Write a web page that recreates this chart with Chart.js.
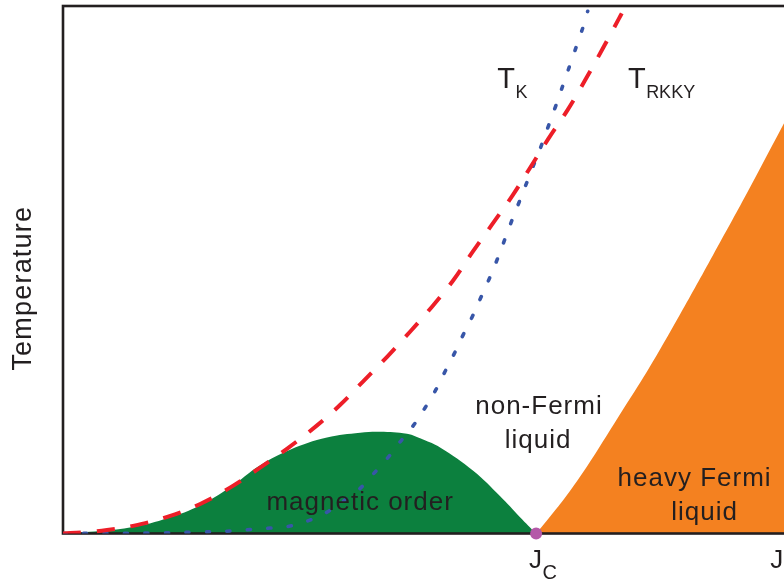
<!DOCTYPE html>
<html>
<head>
<meta charset="utf-8">
<script src="https://cdn.jsdelivr.net/npm/chart.js@4.4.1/dist/chart.umd.min.js"></script>
<style>
  html, body { margin: 0; padding: 0; background: #fff; overflow: hidden; }
  canvas { display: block; }
</style>
</head>
<body>
<canvas id="phase" width="830" height="583"></canvas>
<script>
// Doniach phase diagram: coupling J (in units of Jc) vs temperature (arbitrary units, 0-100)

// Magnetically ordered dome
const orderJ = [0, 0.078, 0.148, 0.222, 0.290, 0.353, 0.416, 0.480, 0.558, 0.628, 0.670, 0.727, 0.761, 0.797, 0.867, 0.924, 0.966, 1.0];
const orderT = [0, 0.47, 1.22, 2.92, 5.36, 8.75, 12.9, 15.9, 18.2, 19.1, 19.3, 18.9, 17.8, 16.3, 11.9, 7.06, 3.1, 0];

// RKKY scale
const rkkyJ = [0, 0.042, 0.093, 0.148, 0.222, 0.290, 0.353, 0.412, 0.474, 0.537, 0.586, 0.634, 0.685, 0.734, 0.780, 0.825, 0.865, 0.907, 0.951, 0.987, 1.025, 1.068, 1.104, 1.140, 1.175, 1.181];
const rkkyT = [0, 0.22, 0.66, 1.45, 3.2, 5.6, 8.7, 12.2, 16.1, 20.5, 24.4, 28.8, 33.5, 38.3, 43.0, 48.0, 53.3, 58.6, 64.2, 69.3, 74.7, 80.5, 86.0, 91.8, 97.6, 98.6];

// Kondo scale
const kondoJ = [0, 0.184, 0.290, 0.353, 0.395, 0.438, 0.480, 0.522, 0.558, 0.592, 0.628, 0.655, 0.685, 0.710, 0.740, 0.765, 0.789, 0.808, 0.827, 0.846, 0.865, 0.882, 0.901, 0.918, 0.934, 0.949, 0.964, 0.981, 0.994, 1.013, 1.025, 1.040, 1.051, 1.066, 1.080, 1.093, 1.101, 1.109];
const kondoT = [0, 0.1, 0.28, 0.47, 0.75, 1.03, 1.41, 2.54, 4.05, 6.11, 8.56, 11.2, 14.2, 17.1, 20.4, 23.8, 27.4, 30.8, 34.1, 37.7, 41.1, 44.5, 48.3, 52.0, 55.8, 59.4, 62.8, 66.7, 69.7, 74.0, 77.0, 80.7, 83.5, 87.4, 91.0, 94.4, 96.5, 99.0];

// Heavy Fermi liquid crossover
const fermiJ = [1.0, 1.030, 1.057, 1.093, 1.129, 1.178, 1.235, 1.304, 1.374, 1.446, 1.510, 1.558, 1.600];
const fermiT = [0, 3.29, 6.30, 10.8, 15.7, 22.7, 30.8, 41.5, 52.8, 64.6, 75.4, 83.4, 90.4];

// Quantum critical point
const criticalJ = [1.0];
const criticalT = [0];

const J_MIN = 0, J_MAX = 1.6, T_MIN = 0, T_MAX = 100;

const INK = '#231f20';
const FONT = '"Liberation Sans", Arial, Helvetica, sans-serif';

const toPoints = (xs, ys) => xs.map((x, i) => ({ x, y: ys[i] }));

// Text placed in data coordinates
const regionLabels = [
  { text: 'magnetic order', j: 0.628, t: 4.42 },
  { text: 'non-Fermi',      j: 1.006, t: 22.67 },
  { text: 'liquid',         j: 1.004, t: 16.27 },
  { text: 'heavy Fermi',    j: 1.335, t: 8.94 },
  { text: 'liquid',         j: 1.356, t: 2.54 }
];
const curveLabels = [
  { main: 'T', sub: 'K',    j: 0.918, t: 84.4 },
  { main: 'T', sub: 'RKKY', j: 1.194, t: 84.4 }
];
const axisLabels = [
  { main: 'J', sub: 'C', j: 0.985 },
  { main: 'J', sub: '',  j: 1.495 }
];

let frameDrawn = false;
const framePlugin = {
  id: 'frame',
  beforeDatasetsDraw() { frameDrawn = false; },
  beforeDatasetDraw(chart, args) {
    if (frameDrawn) return;
    if (chart.data.datasets[args.index].order < 3) {
      const { ctx, chartArea: a } = chart;
      ctx.save();
      ctx.strokeStyle = INK;
      ctx.lineWidth = 2.6;
      ctx.strokeRect(a.left, a.top, a.right - a.left, a.bottom - a.top);
      ctx.restore();
      frameDrawn = true;
    }
  }
};

const textPlugin = {
  id: 'texts',
  afterDraw(chart) {
    const { ctx, chartArea: a } = chart;
    const xs = chart.scales.x, ys = chart.scales.y;
    ctx.save();
    ctx.fillStyle = INK;
    ctx.textBaseline = 'alphabetic';

    // region names
    ctx.font = '26px ' + FONT;
    ctx.letterSpacing = '1px';
    ctx.textAlign = 'center';
    regionLabels.forEach(l => {
      ctx.fillText(l.text, xs.getPixelForValue(l.j), ys.getPixelForValue(l.t));
    });

    // curve names with subscripts
    ctx.letterSpacing = '0px';
    ctx.textAlign = 'left';
    curveLabels.forEach(l => {
      const px = xs.getPixelForValue(l.j), py = ys.getPixelForValue(l.t);
      ctx.font = '29px ' + FONT;
      ctx.fillText(l.main, px, py);
      const w = ctx.measureText(l.main).width;
      ctx.font = '18px ' + FONT;
      ctx.fillText(l.sub, px + w + 0.5, py + 10);
    });

    // coupling axis marks
    axisLabels.forEach(l => {
      const px = xs.getPixelForValue(l.j), py = a.bottom + 34.5;
      ctx.font = '26px ' + FONT;
      ctx.fillText(l.main, px, py);
      const w = ctx.measureText(l.main).width;
      if (l.sub) {
        ctx.font = '20px ' + FONT;
        ctx.fillText(l.sub, px + w + 0.5, py + 11);
      }
    });

    // temperature axis title
    ctx.font = '27px ' + FONT;
    ctx.letterSpacing = '1.2px';
    ctx.textAlign = 'center';
    ctx.textBaseline = 'middle';
    ctx.translate(a.left - 39, ys.getPixelForValue(46.5));
    ctx.rotate(-Math.PI / 2);
    ctx.fillText('Temperature', 0, 0);
    ctx.restore();
  }
};

new Chart(document.getElementById('phase'), {
  type: 'line',
  data: {
    datasets: [
      {
        label: 'magnetic order',
        data: toPoints(orderJ, orderT),
        order: 3,
        fill: 'origin',
        backgroundColor: 'rgb(12,128,62)',
        borderWidth: 0,
        pointRadius: 0,
        tension: 0.4
      },
      {
        label: 'heavy Fermi liquid',
        data: toPoints(fermiJ, fermiT),
        order: 3,
        fill: 'origin',
        backgroundColor: 'rgb(244,129,32)',
        borderWidth: 0,
        pointRadius: 0,
        tension: 0.4
      },
      {
        label: 'T_RKKY',
        data: toPoints(rkkyJ, rkkyT),
        order: 2,
        fill: false,
        borderColor: 'rgb(237,30,40)',
        borderWidth: 4,
        borderDash: [18, 16],
        borderCapStyle: 'butt',
        pointRadius: 0,
        tension: 0.4
      },
      {
        label: 'T_K',
        data: toPoints(kondoJ, kondoT),
        order: 2,
        fill: false,
        borderColor: 'rgb(56,86,168)',
        borderWidth: 3.6,
        borderDash: [3, 17.5],
        borderCapStyle: 'round',
        pointRadius: 0,
        tension: 0.4
      },
      {
        label: 'Jc',
        data: toPoints(criticalJ, criticalT),
        order: 1,
        showLine: false,
        clip: false,
        pointRadius: 6,
        pointBorderWidth: 0,
        pointBackgroundColor: 'rgb(180,88,168)'
      }
    ]
  },
  options: {
    responsive: false,
    animation: false,
    devicePixelRatio: 1,
    layout: { padding: { left: 63, right: 10, top: 2, bottom: 49.5 } },
    plugins: { legend: { display: false }, tooltip: { enabled: false } },
    scales: {
      x: { type: 'linear', min: J_MIN, max: J_MAX, display: false },
      y: { type: 'linear', min: T_MIN, max: T_MAX, display: false }
    }
  },
  plugins: [framePlugin, textPlugin]
});
</script>
</body>
</html>
